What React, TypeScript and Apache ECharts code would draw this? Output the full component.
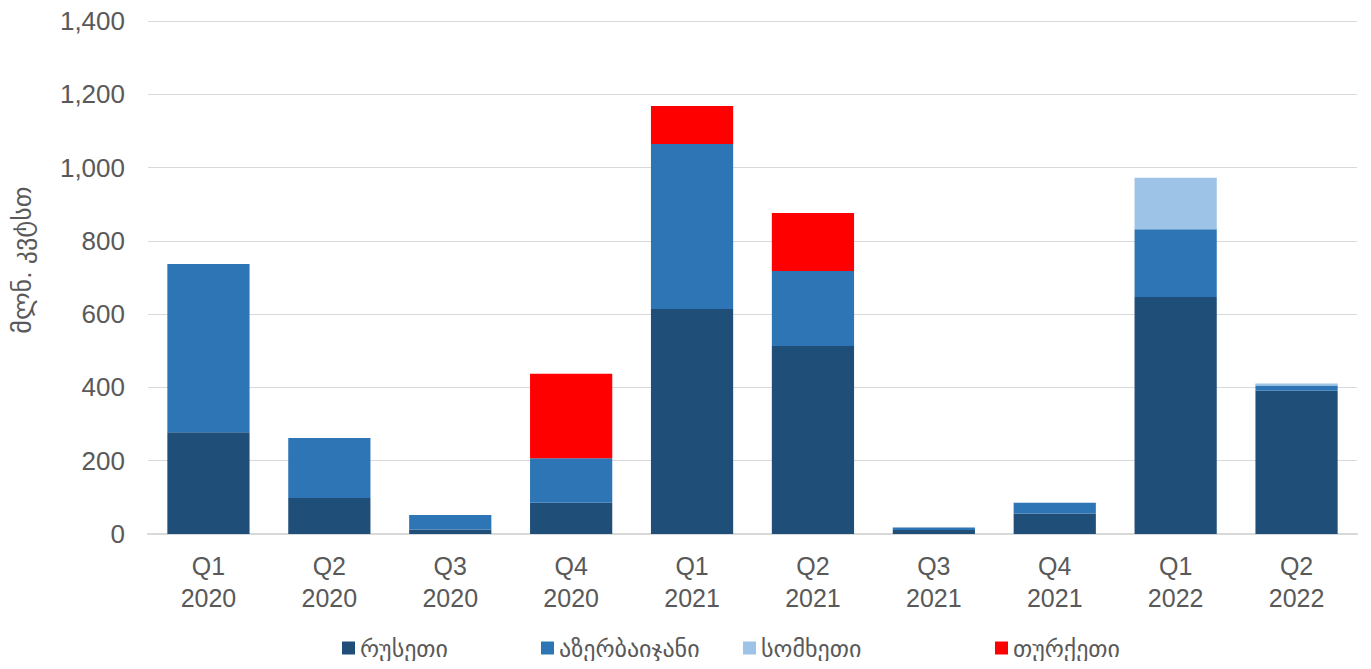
import React, { useEffect, useRef } from "react";
import * as echarts from "echarts";

const categories = ["Q1\n2020", "Q2\n2020", "Q3\n2020", "Q4\n2020", "Q1\n2021", "Q2\n2021", "Q3\n2021", "Q4\n2021", "Q1\n2022", "Q2\n2022"];
const russia = [278, 98, 12, 85, 614, 513, 11, 56, 647, 391];
const azerbaijan = [459, 164, 40, 122, 450, 205, 7, 29, 185, 14];
const armenia = [0, 0, 0, 0, 0, 0, 0, 0, 140, 6];
const turkey = [0, 0, 0, 230, 104, 158, 0, 0, 0, 0];
const seriesNames = ["რუსეთი", "აზერბაიჯანი", "სომხეთი", "თურქეთი"];
const colors = ["#1F4E79", "#2E75B6", "#9DC3E6", "#FF0000"];
const yTitle = "მლნ. კვტსთ";

const FONT = "'Liberation Sans', Arial, 'DejaVu Sans', sans-serif";

export default function App() {
  const ref = useRef<HTMLDivElement>(null);
  useEffect(() => {
    if (!ref.current) return;
    const chart = echarts.init(ref.current, null, { renderer: "svg" });
    const data = [russia, azerbaijan, armenia, turkey];
    const legendLefts = [337, 536, 738, 990];
    chart.setOption({
      animation: false,
      textStyle: { fontFamily: FONT },
      grid: { left: 148, right: 14, top: 21, bottom: 135, containLabel: false },
      legend: seriesNames.map((n, i) => ({
        data: [n],
        left: legendLefts[i],
        top: 630,
        itemWidth: 13,
        itemHeight: 13,
        itemGap: 7,
        icon: "rect",
        textStyle: { fontSize: 24, lineHeight: 26, color: "#595959", fontFamily: FONT },
      })),
      xAxis: {
        type: "category",
        data: categories,
        axisLine: { lineStyle: { color: "#D9D9D9", width: 2 } },
        axisTick: { show: false },
        axisLabel: { fontSize: 25, color: "#595959", lineHeight: 32, margin: 16 },
      },
      yAxis: {
        type: "value",
        min: 0,
        max: 1400,
        interval: 200,
        axisLabel: {
          fontSize: 26,
          color: "#595959",
          margin: 23,
          formatter: (v: number) => v.toLocaleString("en-US"),
        },
        splitLine: { lineStyle: { color: "#D9D9D9", width: 1 } },
        axisLine: { show: false },
        axisTick: { show: false },
      },
      graphic: [
        {
          type: "text",
          x: 22,
          y: 260,
          rotation: Math.PI / 2,
          style: {
            text: yTitle,
            fontSize: 26,
            fill: "#595959",
            fontFamily: FONT,
            align: "center",
            verticalAlign: "middle",
          },
        },
      ],
      series: seriesNames.map((n, i) => ({
        name: n,
        type: "bar",
        stack: "total",
        barCategoryGap: "32%",
        data: data[i],
        itemStyle: { color: colors[i] },
      })),
    });
    return () => chart.dispose();
  }, []);
  return <div ref={ref} style={{ width: 1371, height: 669, margin: -8 }} />;
}
